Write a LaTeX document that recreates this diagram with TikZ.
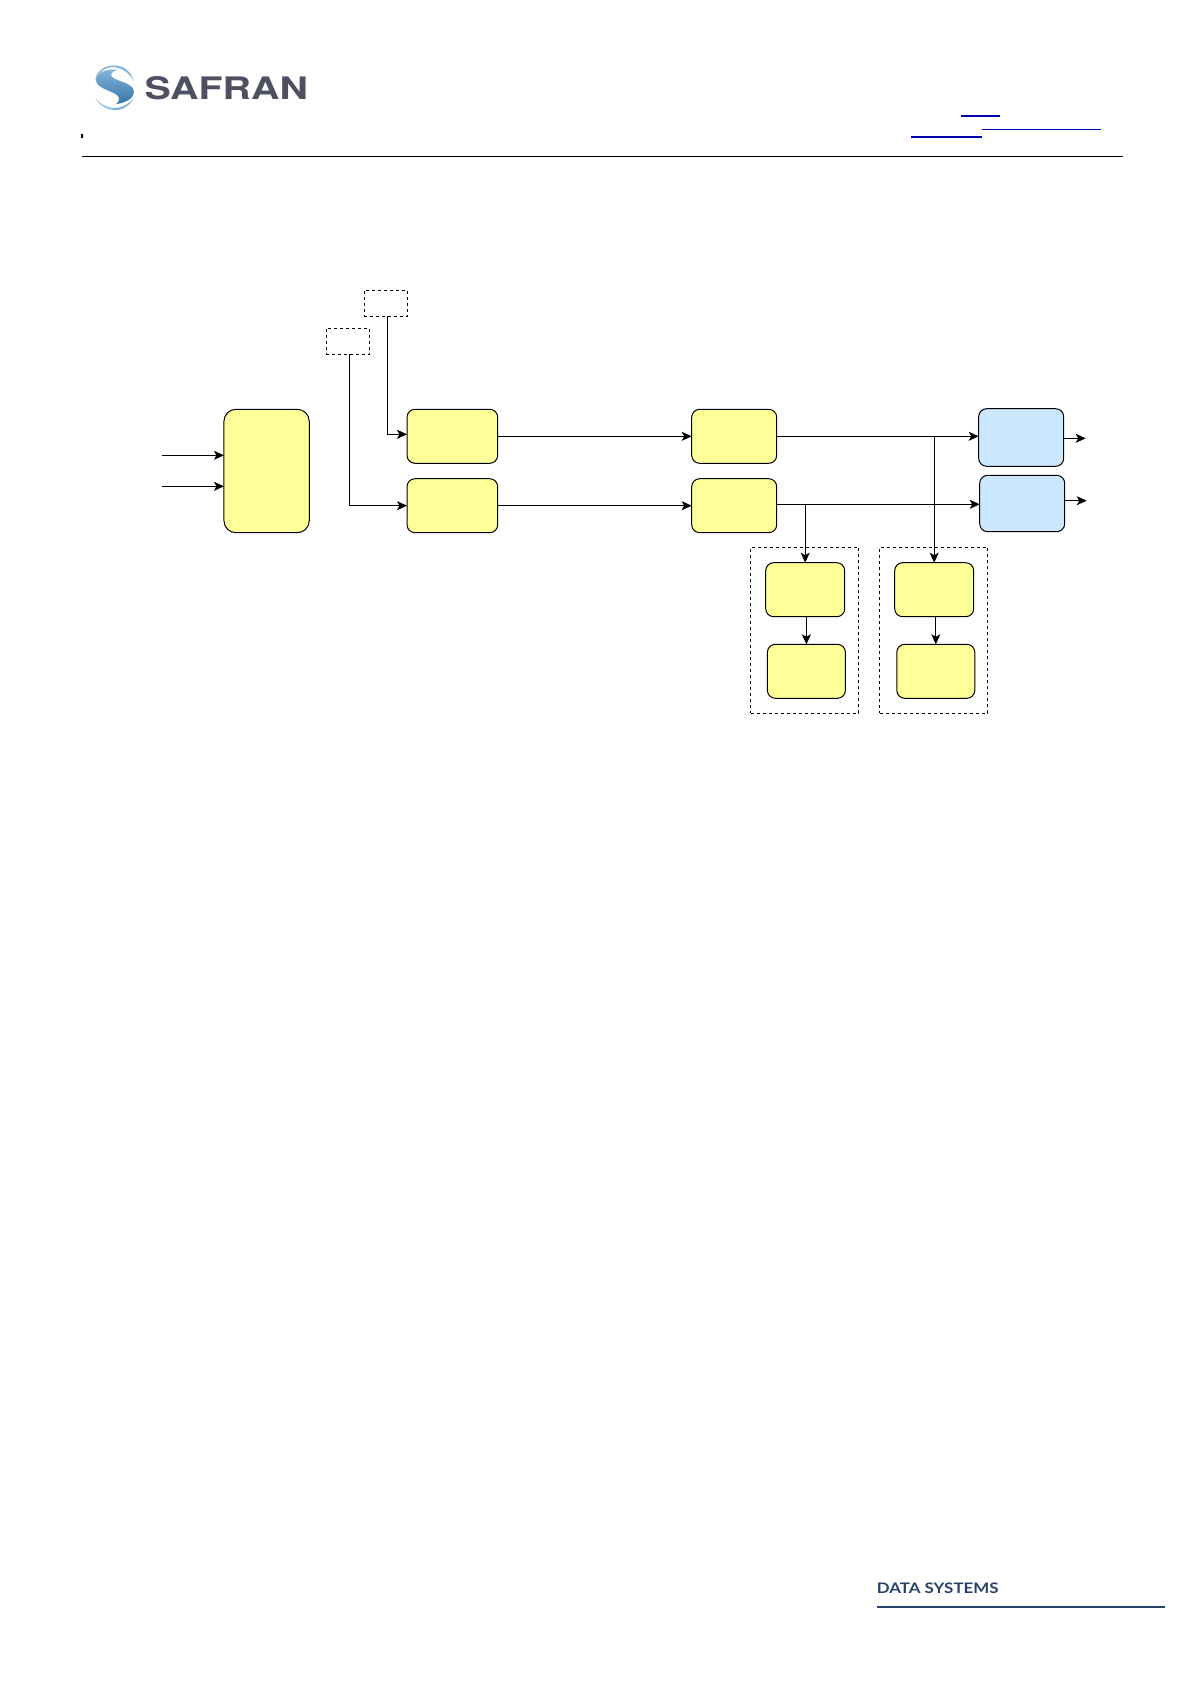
\documentclass[tikz,border=0pt]{standalone}
\usepackage{xcolor}
\usepackage{fontspec}
\usepackage{tikz}
\usetikzlibrary{arrows.meta,positioning}
\newfontfamily\logofont[FakeStretch=1.27]{TeX Gyre Heros}
\newfontfamily\footfont[FakeStretch=1.165]{Lato}
\definecolor{boxyellow}{RGB}{255,255,153}
\definecolor{boxblue}{RGB}{204,232,255}
\definecolor{logogray}{RGB}{78,80,98}
\definecolor{logoblue}{RGB}{70,145,205}
\definecolor{footblue}{RGB}{38,66,108}
\definecolor{linkblue}{RGB}{0,0,170}

\begin{document}
\begin{tikzpicture}[
  x=1pt, y=-1pt,
  node distance=15.4pt and 82pt,
  block/.style={rectangle, draw=black, line width=1pt, rounded corners=8pt, fill=boxyellow, outer sep=0pt, minimum width=85pt, minimum height=54pt},
  output/.style={block, fill=boxblue, minimum width=85pt},
  sub/.style={block, minimum width=79pt},
  tag/.style={rectangle, draw=black, dashed, line width=0.9pt, outer sep=0pt, minimum width=43.5pt, minimum height=26pt},
  frame/.style={rectangle, draw=black, dashed, line width=0.9pt, outer sep=0pt, minimum width=108pt, minimum height=166pt},
  arrow/.style={-{Stealth[length=10pt, width=9pt, inset=2.5pt]}, line width=1pt},
  link/.style={linkblue, line width=1.7pt}
]
\useasboundingbox (0,0) rectangle (1191,1684);

% page header
\coordinate (headl) at (82,156.3);
\coordinate (headr) at (1122.7,156.3);
\draw[line width=1pt] (headl) -- (headr);
\fill (81,134) rectangle (82.6,138);
\draw[link] (961,115.7) -- (1000,115.7);
\draw[linkblue, line width=1pt] (982,129.3) -- (1100.7,129.3);
\draw[link] (911,137) -- (982,137);

% logo
\node[anchor=west, inner sep=0pt, text=logogray, font=\logofont\fontsize{31}{31}\selectfont\bfseries] (safran) at (144.5,88.5) {SAFRAN};
\shade[top color=logoblue!65!white, bottom color=logoblue!80!black]
  (118,70) .. controls (106,68) and (96,73) .. (96,80)
  .. controls (96,88) and (110,90) .. (117,95)
  .. controls (120,98) and (120,101) .. (116,104)
  .. controls (126,103) and (134,98) .. (134,92)
  .. controls (134,83) and (118,82) .. (112,77)
  .. controls (110,74) and (112,71) .. (118,70) -- cycle;
\fill[logoblue!70!white] (95,80) .. controls (97,70) and (106,65) .. (115,65.5)
  .. controls (124,66) and (131,71) .. (134,82)
  .. controls (130,73) and (122,67.5) .. (113,67)
  .. controls (105,67) and (99,72) .. (95,80) -- cycle;
\fill[logoblue!70!white] (95,98) .. controls (100,106) and (108,110) .. (116,110)
  .. controls (124,110) and (131,104) .. (134,98)
  .. controls (129,104) and (122,108) .. (114,108)
  .. controls (106,108) and (100,104) .. (95,98) -- cycle;

% footer
\node[anchor=west, inner sep=0pt, text=footblue, font=\footfont\fontsize{14.5}{14.5}\selectfont\bfseries] (datasys) at (876.7,1588.5) {DATA SYSTEMS};
\coordinate (footl) at (877,1607);
\coordinate (footr) at (1165,1607);
\draw[footblue, line width=1.2pt] (footl) -- (footr);

% diagram
\node[block, rounded corners=12pt, minimum width=85.3pt, minimum height=123.4pt] (input) at (266.6,471) {};
\coordinate[left=62pt of input.west, yshift=15.7pt] (ina);
\coordinate[left=62pt of input.west, yshift=-15.3pt] (inb);

\node[block, minimum width=90.7pt, anchor=north west] (pathA) at (407,409.3) {};
\node[block, minimum width=90.7pt, below=15.4pt of pathA] (pathB) {};
\node[block, right=194pt of pathA] (procA) {};
\node[block, right=194pt of pathB] (procB) {};
\node[output, right=202pt of procA, minimum height=57.6pt, yshift=-1.2pt] (outA) {};
\node[output, right=203pt of procB, minimum height=56.4pt, yshift=2.2pt] (outB) {};
\coordinate[right=22pt of outA.east, yshift=-0.8pt] (endA);
\coordinate[right=22pt of outB.east, yshift=2.8pt] (endB);

\node[tag] (tagA) at (386,303) {};
\node[tag] (tagB) at (348,341.2) {};

\node[frame] (frameA) at (804.5,630.3) {};
\node[frame] (frameB) at (933.5,630.3) {};
\node[sub] (calcA) at (805.2,589.7) {};
\node[sub, below=27.6pt of calcA, xshift=1.2pt, minimum width=78pt] (logA) {};
\node[sub] (calcB) at (934.2,589.7) {};
\node[sub, below=27.6pt of calcB, xshift=1.6pt, minimum width=78pt] (logB) {};

\coordinate[yshift=1.4pt] (exitB) at (procB.east);
\coordinate (tapB) at (exitB -| calcA.north);
\coordinate (tapA) at (procA.east -| calcB.north);

\draw[arrow] (ina) -- (ina -| input.west);
\draw[arrow] (inb) -- (inb -| input.west);
\draw[arrow] ([xshift=1.3pt]tagA.south) |- ([yshift=2pt]pathA.west);
\draw[arrow] ([xshift=1.1pt]tagB.south) |- (pathB.west);
\draw[arrow] (pathA) -- (procA);
\draw[arrow] (pathB) -- (procB);
\draw[arrow] (procA) -- (procA -| outA.west);
\draw[arrow] (exitB) -- (exitB -| outB.west);
\draw[arrow] (outA.east |- endA) -- (endA);
\draw[arrow] (outB.east |- endB) -- (endB);
\draw[arrow] (tapB) -- (calcA.north);
\draw[arrow] (tapA) -- (calcB.north);
\draw[arrow] (calcA.south -| logA.north) -- (logA.north);
\draw[arrow] (calcB.south -| logB.north) -- (logB.north);
\end{tikzpicture}
\end{document}
